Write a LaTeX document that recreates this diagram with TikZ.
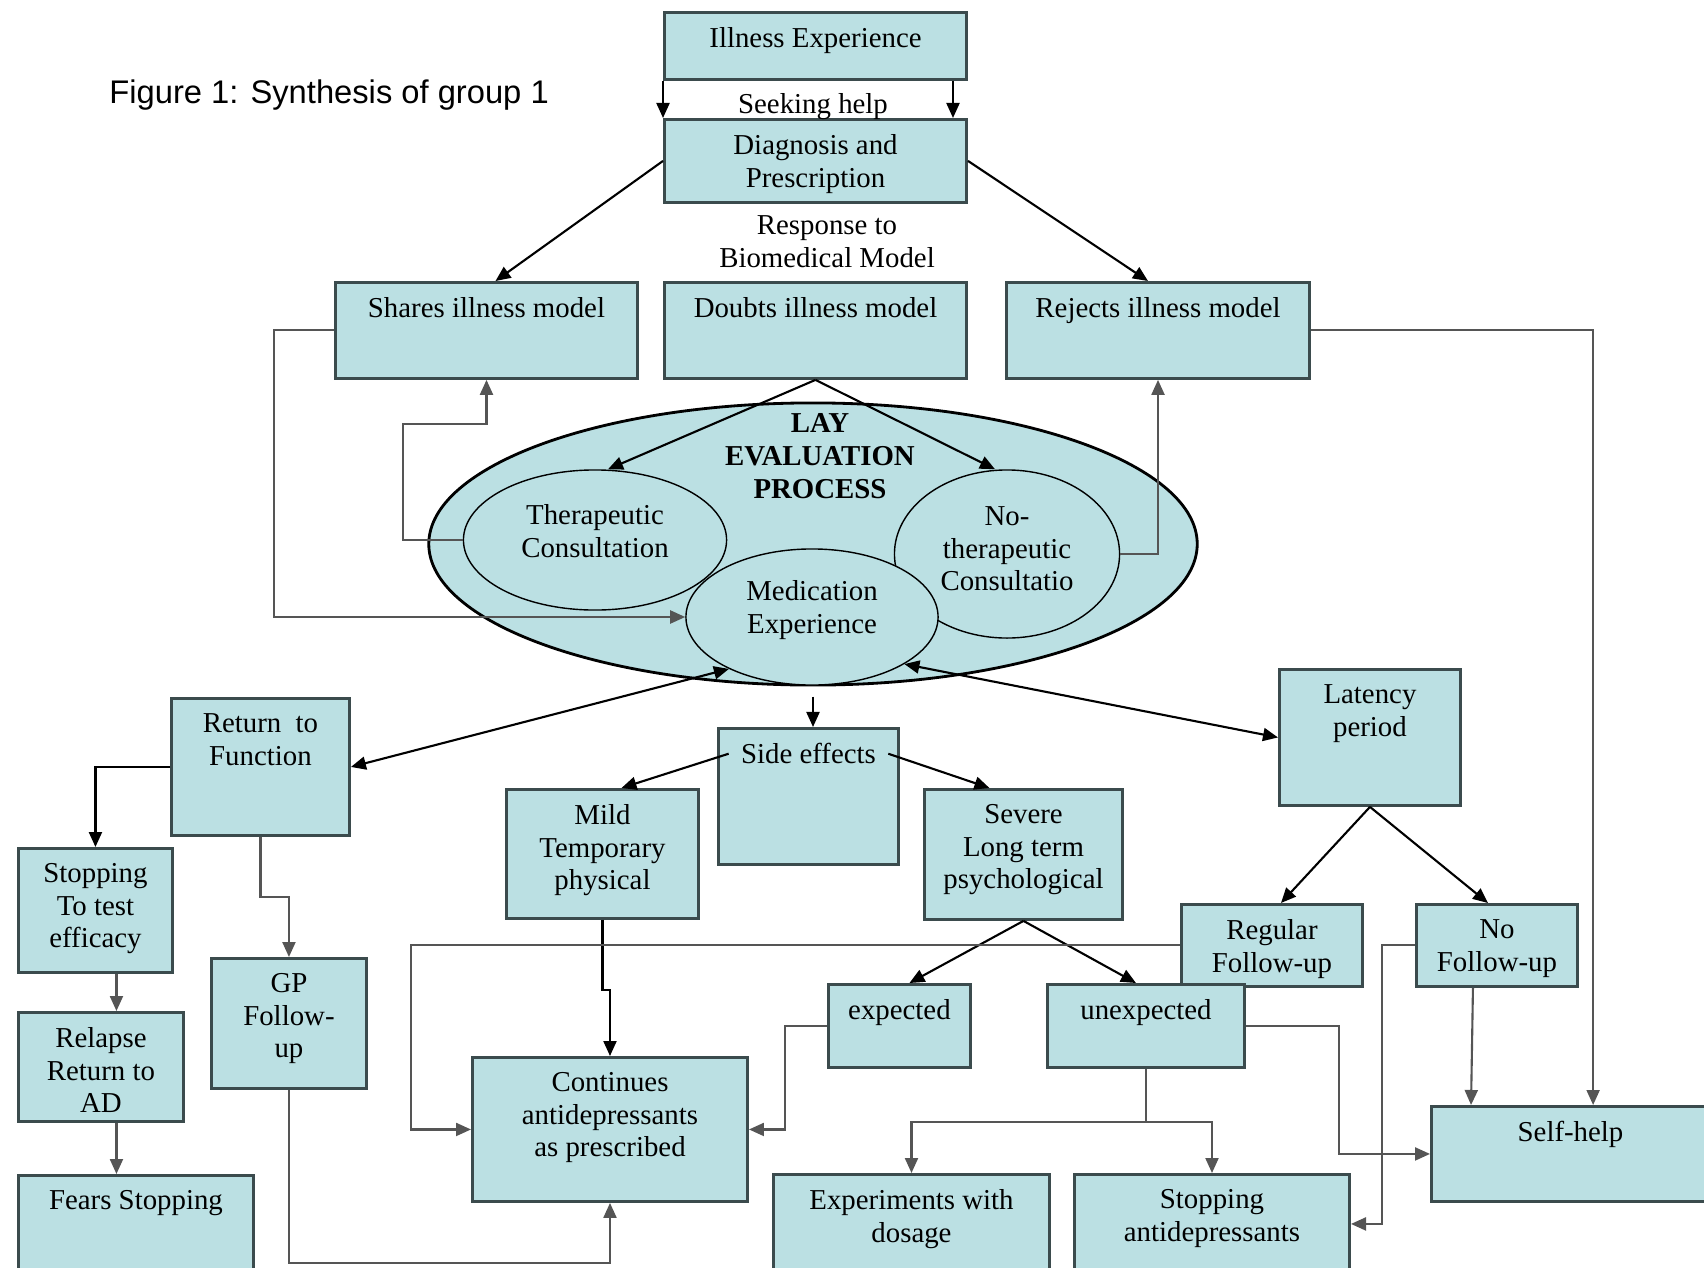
\documentclass[tikz,border=0pt]{standalone}
\usepackage{fontspec}
\setmainfont{Liberation Serif}
\setsansfont{Liberation Sans}
\usetikzlibrary{arrows.meta,shapes.geometric}
\definecolor{boxfill}{HTML}{BBE0E3}
\definecolor{boxline}{HTML}{3B4B4D}
\definecolor{linegrey}{HTML}{555555}
\newcommand{\boxfont}{\fontsize{8.2}{9.3}\selectfont}
\tikzset{%
  arrow/.style={semithick,-{Triangle[length=0.15cm,width=0.13cm]}},
  garrow/.style={arrow,draw=linegrey},
  twoway/.style={semithick,{Triangle[length=0.15cm,width=0.13cm]}-{Triangle[length=0.15cm,width=0.13cm]}},
  box/.style 2 args={draw=boxline,fill=boxfill,thick,anchor=north west,inner sep=0pt,minimum width=#1,minimum height=#2},
  ttl/.style={anchor=north,align=center,yshift=-0.04cm},
  blob/.style 2 args={ellipse,draw,fill=boxfill,inner sep=0pt,minimum width=#1,minimum height=#2},
}

\begin{document}
\begin{tikzpicture}[x=0.01cm,y=-0.01cm,font=\boxfont]
  \useasboundingbox (0,0) rectangle (1704,1267);
  \node[anchor=west,font=\sffamily\fontsize{9.3}{11}\selectfont] (title) at (97,95) {Figure 1: Synthesis of group 1};

  % top of the chain
  \node[box={3.02cm}{0.67cm},label={[ttl]north:Illness Experience}] (ill) at (663,11) {};
  \node[box={3.02cm}{0.83cm},label={[ttl]north:Diagnosis and\\Prescription}] (diag) at (663,118) {};
  \node (seek) at (813,107) {Seeking help};
  \node[align=center] (resp) at (827,242) {Response to\\Biomedical Model};
  \node[box={3.02cm}{0.96cm},label={[ttl]north:Shares illness model}] (shares) at (334,281) {};
  \node[box={3.02cm}{0.96cm},label={[ttl]north:Doubts illness model}] (doubts) at (663,281) {};
  \node[box={3.03cm}{0.96cm},label={[ttl]north:Rejects illness model}] (rejects) at (1005,281) {};

  % lay evaluation
  \node[blob={7.68cm}{2.82cm},thick,label={[ttl,font=\boxfont\bfseries,xshift=0.07cm,yshift=0.04cm]north:LAY\\EVALUATION\\PROCESS}] (lay) at (813,544) {};
  \node[blob={2.63cm}{1.40cm},label={[ttl,yshift=-0.19cm]north:Therapeutic\\Consultation}] (thera) at (595,540) {};
  \node[blob={2.25cm}{1.68cm},label={[ttl,yshift=-0.21cm]north:No-\\therapeutic\\Consultatio}] (nothera) at (1007,554) {};
  \node[blob={2.52cm}{1.36cm},label={[ttl,yshift=-0.16cm]north:Medication\\Experience}] (med) at (812,617) {};

  % outcomes
  \node[box={1.78cm}{1.37cm},label={[ttl]north:Return\ \ to\\Function}] (ret) at (170,697) {};
  \node[box={1.80cm}{1.36cm},label={[ttl,name=sidelbl]north:Side effects}] (side) at (717,727) {};
  \node[box={1.81cm}{1.36cm},label={[ttl]north:Latency\\period}] (latency) at (1278,668) {};
  \node[box={1.92cm}{1.29cm},label={[ttl]north:Mild\\Temporary\\physical}] (mild) at (505,788) {};
  \node[box={1.98cm}{1.30cm},label={[ttl]north:Severe\\Long term\\psychological}] (severe) at (923,788) {};
  \node[box={1.54cm}{1.24cm},label={[ttl]north:Stopping\\To test\\efficacy}] (stop) at (17,847) {};
  \node[box={1.65cm}{1.09cm},label={[ttl]north:Relapse\\Return to\\AD}] (relapse) at (17,1011) {};
  \node[box={2.35cm}{0.98cm},label={[ttl]north:Fears Stopping}] (fears) at (17,1174) {};
  \node[box={1.55cm}{1.30cm},label={[ttl]north:GP\\Follow-\\up}] (gp) at (210,957) {};
  \node[box={2.75cm}{1.44cm},label={[ttl]north:Continues\\antidepressants\\as prescribed}] (cont) at (471,1056) {};
  \node[box={1.81cm}{0.82cm},label={[ttl]north:Regular\\Follow-up}] (regfu) at (1180,903) {};
  \node[box={1.61cm}{0.82cm},label={[ttl]north:No\\Follow-up}] (nofu) at (1415,903) {};
  \node[box={1.42cm}{0.83cm},label={[ttl]north:expected}] (exp) at (827,983) {};
  \node[box={1.97cm}{0.83cm},label={[ttl]north:unexpected}] (unexp) at (1046,983) {};
  \node[box={2.76cm}{0.99cm},label={[ttl]north:Experiments with\\dosage}] (exper) at (772,1173) {};
  \node[box={2.75cm}{0.99cm},label={[ttl]north:Stopping\\antidepressants}] (stopad) at (1073,1173) {};
  \node[box={2.78cm}{0.95cm},label={[ttl]north:Self-help}] (selfhelp) at (1430,1105) {};

  % connectors, top
  \draw[arrow] (ill.south west) -- (diag.north west);
  \draw[arrow] ([xshift=-0.15cm]ill.south east) -- ([xshift=-0.15cm]diag.north east);
  \draw[arrow] (diag.west) -- ([xshift=0.09cm]shares.north);
  \draw[arrow] (diag.east) -- ([xshift=-0.1cm]rejects.north);
  \draw[arrow] (doubts.south) -- ([xshift=0.13cm]thera.north);
  \draw[arrow] (doubts.south) -- ([xshift=-0.12cm]nothera.north);
  \draw[garrow] (thera.west) -- ++(-60,0) -- ++(0,-116) -| (shares.south);
  \draw[garrow] (shares.west) -- ++(-60,0) |- (med.west);
  \draw[garrow] (nothera.east) -| (rejects.south);
  \draw[garrow] (rejects.east) -| ([xshift=1.63cm]selfhelp.north west);

  % connectors, middle
  \draw[twoway] (med.212) -- (ret.east);
  \draw[twoway] (med.333) -- (latency.west);
  \draw[arrow,shorten <=0.1cm] (lay.south) -- (lay.south |- side.north);
  \draw[arrow] (sidelbl.west) -- ([xshift=0.19cm]mild.north);
  \draw[arrow] (sidelbl.east) -- ([xshift=-0.34cm]severe.north);
  \draw[arrow] (ret.west) -| (stop.north);
  \draw[garrow] (ret.south) -- ++(0,60) -| (gp.north);
  \draw[garrow] ([xshift=0.21cm]stop.south) -- ([xshift=0.21cm]stop.south |- relapse.north);
  \draw[garrow] ([xshift=0.155cm]relapse.south) -- ([xshift=0.155cm]relapse.south |- fears.north);
  \draw[garrow] (gp.south) -- ++(0,173) -| (cont.south);
  \draw[arrow] (mild.south) -- ++(0,70) -| (cont.north);
  \draw[arrow] (latency.south) -- ([xshift=0.09cm]regfu.north);
  \draw[arrow] (latency.south) -- ([xshift=-0.09cm]nofu.north);

  % connectors, bottom
  \draw[arrow] (severe.south) -- ([xshift=0.1cm]exp.north);
  \draw[arrow] (severe.south) -- ([xshift=-0.1cm]unexp.north);
  \draw[garrow] (regfu.west) -- ++(-769,0) |- (cont.west);
  \draw[garrow] (exp.west) -- ++(-42,0) |- (cont.east);
  \draw[garrow] (unexp.east) -- ++(93,0) |- (selfhelp.west);
  \draw[garrow] (unexp.south) -- ++(0,53) -| (exper.north);
  \draw[garrow] (unexp.south) -- ++(0,53) -| (stopad.north);
  \draw[garrow] ([xshift=-0.24cm]nofu.south) -- ([xshift=0.41cm]selfhelp.north west);
  \draw[garrow] (nofu.west) -- ++(-33,0) |- (stopad.east);
\end{tikzpicture}
\end{document}
